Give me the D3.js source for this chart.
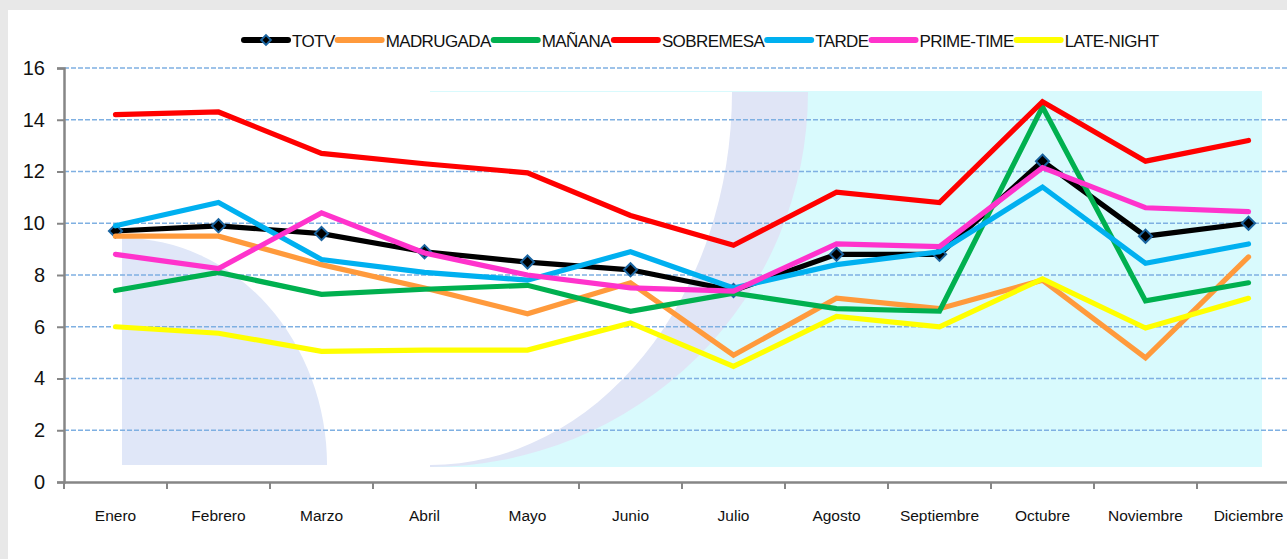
<!DOCTYPE html>
<html>
<head>
<meta charset="utf-8">
<script src="https://cdn.jsdelivr.net/npm/d3@7"></script>
<style>
  body { margin: 0; background: #e8e8e8; }
  svg { display: block; }
  text { font-family: "Liberation Sans", Arial, sans-serif; fill: #111; }
</style>
</head>
<body>
<svg width="1287" height="559"></svg>
<script>
var months = ["Enero","Febrero","Marzo","Abril","Mayo","Junio","Julio","Agosto","Septiembre","Octubre","Noviembre","Diciembre"];

var totv      = [9.7, 9.9, 9.6, 8.9, 8.5, 8.2, 7.4, 8.8, 8.8, 12.4, 9.5, 10.0];
var madrugada = [9.5, 9.5, 8.4, 7.5, 6.5, 7.7, 4.9, 7.1, 6.7, 7.8, 4.8, 8.7];
var manana    = [7.4, 8.1, 7.25, 7.45, 7.6, 6.6, 7.3, 6.7, 6.6, 14.5, 7.0, 7.7];
var sobremesa = [14.2, 14.3, 12.7, 12.3, 11.95, 10.3, 9.15, 11.2, 10.8, 14.7, 12.4, 13.2];
var tarde     = [9.9, 10.8, 8.6, 8.1, 7.8, 8.9, 7.5, 8.4, 8.9, 11.4, 8.45, 9.2];
var prime     = [8.8, 8.25, 10.4, 8.85, 8.0, 7.5, 7.38, 9.2, 9.1, 12.15, 10.6, 10.45];
var late      = [6.0, 5.75, 5.05, 5.1, 5.1, 6.15, 4.47, 6.4, 6.0, 7.85, 5.95, 7.1];

var yTicks = [0, 2, 4, 6, 8, 10, 12, 14, 16];

var series = [
  {name: "TOTV",       values: totv,      color: "#000000", marker: true},
  {name: "MADRUGADA",  values: madrugada, color: "#ff9a3c"},
  {name: "MAÑANA",     values: manana,    color: "#00b04f"},
  {name: "SOBREMESA",  values: sobremesa, color: "#ff0000"},
  {name: "TARDE",      values: tarde,     color: "#00b0f0"},
  {name: "PRIME-TIME", values: prime,     color: "#ff33cc"},
  {name: "LATE-NIGHT", values: late,      color: "#ffff00"}
];

var svg = d3.select("svg"),
    width = +svg.attr("width"),
    height = +svg.attr("height");

// frame
svg.append("rect").attr("width", width).attr("height", height).attr("fill", "#e8e8e8");
svg.append("rect").attr("x", 8).attr("y", 10).attr("width", width - 8).attr("height", height - 10).attr("fill", "#ffffff");

var x = d3.scaleBand().domain(months).range([64, 1300]).paddingInner(0).paddingOuter(0),
    y = d3.scaleLinear().domain([0, 16]).range([482, 68]);

var cx = function(i) { return x(months[i]) + x.bandwidth() / 2; };

// background artwork (watermark)
var deco = svg.append("g");
deco.append("rect").attr("x", 430).attr("y", 91).attr("width", 832).attr("height", 376).attr("fill", "#d9fafd");
deco.append("path")
    .attr("d", "M430,92 L808,92 A378,375 0 0 1 430,467 Z")
    .attr("fill", "#e0e5f6");
deco.append("path")
    .attr("d", "M430,92 L732,92 A302,373 0 0 1 430,465 Z")
    .attr("fill", "#ffffff");
deco.append("path")
    .attr("d", "M122,465 L122,238 A205,227 0 0 1 327,465 Z")
    .attr("fill", "#e0e7f8");

// gridlines
svg.append("g").selectAll("line")
    .data(yTicks.filter(function(d) { return d > 0; }))
    .enter().append("line")
      .attr("x1", 64).attr("x2", width)
      .attr("y1", function(d) { return y(d); })
      .attr("y2", function(d) { return y(d); })
      .attr("stroke", "#7fb0e2")
      .attr("stroke-width", 1.7)
      .attr("stroke-dasharray", "5,2");

// axes
var yAxis = svg.append("g")
    .attr("transform", "translate(64,0)")
    .call(d3.axisLeft(y).tickValues(yTicks).tickSize(7).tickPadding(12));
yAxis.selectAll("text").style("font-size", "20px").attr("fill", "#111");

var xAxis = svg.append("g")
    .attr("transform", "translate(0,482)")
    .call(d3.axisBottom(x).tickSize(0).tickPadding(28));
xAxis.selectAll("text").style("font-size", "15.5px").attr("fill", "#111");

svg.append("g").selectAll("line")
    .data(months)
    .enter().append("line")
      .attr("x1", function(d) { return x(d); })
      .attr("x2", function(d) { return x(d); })
      .attr("y1", 482).attr("y2", 489)
      .attr("stroke", "#868686").attr("stroke-width", 2);

svg.selectAll(".domain").attr("stroke", "#868686").attr("stroke-width", 2.5);
svg.selectAll(".tick line").attr("stroke", "#868686").attr("stroke-width", 2);

// lines
var line = d3.line()
    .x(function(d, i) { return cx(i); })
    .y(function(d) { return y(d); });

var diamond = d3.symbol().type(d3.symbolDiamond2).size(110);

series.forEach(function(s) {
  svg.append("path")
      .datum(s.values)
      .attr("d", line)
      .attr("fill", "none")
      .attr("stroke", s.color)
      .attr("stroke-width", 5.2)
      .attr("stroke-linejoin", "miter")
      .attr("stroke-linecap", "round");
  if (s.marker) {
    svg.append("g").selectAll("path")
        .data(s.values)
        .enter().append("path")
          .attr("d", diamond)
          .attr("transform", function(d, i) { return "translate(" + cx(i) + "," + y(d) + ")"; })
          .attr("fill", "#000")
          .attr("stroke", "#1a64a0")
          .attr("stroke-width", 2);
  }
});

// legend
var legend = svg.append("g").attr("transform", "translate(242,40)");
var lx = 0;
series.forEach(function(s) {
  var g = legend.append("g").attr("transform", "translate(" + lx + ",0)");
  g.append("line").attr("x1", 2).attr("x2", 46).attr("y1", 0).attr("y2", 0)
      .attr("stroke", s.color).attr("stroke-width", 6).attr("stroke-linecap", "round");
  if (s.marker) {
    g.append("path").attr("d", d3.symbol().type(d3.symbolDiamond2).size(60))
        .attr("transform", "translate(24,0)")
        .attr("fill", "#000").attr("stroke", "#1a64a0").attr("stroke-width", 2);
  }
  var t = g.append("text").attr("x", 50).attr("y", 7)
      .style("font-family", "'Liberation Sans Narrow', 'Liberation Sans', sans-serif")
      .style("font-size", "17px")
      .style("letter-spacing", "-0.6px")
      .text(s.name);
  lx += 50 + t.node().getComputedTextLength() + 1;
});
</script>
</body>
</html>
